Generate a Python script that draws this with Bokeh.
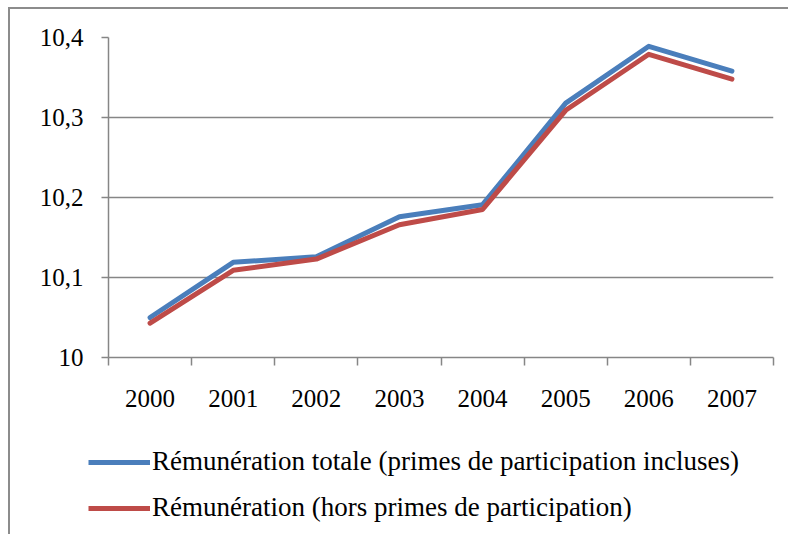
from bokeh.plotting import figure
from bokeh.layouts import column
from bokeh.models import (Range1d, FixedTicker, Legend, LegendItem)
from bokeh.embed import file_html
from bokeh.resources import INLINE

years = ["2000", "2001", "2002", "2003", "2004", "2005", "2006", "2007"]
totale = [10.050, 10.119, 10.126, 10.176, 10.191, 10.318, 10.389, 10.358]
hors = [10.043, 10.109, 10.123, 10.166, 10.185, 10.309, 10.379, 10.348]
y_ticks = [10.0, 10.1, 10.2, 10.3, 10.4]
y_labels = ["10", "10,1", "10,2", "10,3", "10,4"]
names = ["Rémunération totale (primes de participation incluses)",
         "Rémunération (hors primes de participation)"]

BLUE = "#4A7EBB"
RED = "#BE4B48"
GRAY = "#868686"
FONT = "Liberation Serif"
FS = "25px"

xs = [i + 0.5 for i in range(len(years))]

p = figure(width=778, height=411, output_backend="svg", toolbar_location=None,
           x_range=Range1d(0, len(years)), y_range=Range1d(10.0, 10.4),
           min_border_left=98, min_border_top=28, min_border_right=15,
           min_border_bottom=63)
p.outline_line_color = None
p.background_fill_color = "white"
p.border_fill_color = "white"

# y axis
p.yaxis.ticker = FixedTicker(ticks=y_ticks, minor_ticks=[])
p.yaxis.major_label_overrides = {t: l for t, l in zip(y_ticks, y_labels)}
p.yaxis.axis_line_color = GRAY
p.yaxis.axis_line_width = 1.5
p.yaxis.major_tick_line_color = GRAY
p.yaxis.major_tick_line_width = 1.5
p.yaxis.major_tick_out = 7
p.yaxis.major_tick_in = 0
p.yaxis.major_label_standoff = 18
p.yaxis.major_label_text_font = FONT
p.yaxis.major_label_text_font_size = FS
p.yaxis.major_label_text_color = "black"

# x axis
p.xaxis.ticker = FixedTicker(ticks=xs, minor_ticks=list(range(len(years) + 1)))
p.xaxis.major_label_overrides = {x: y for x, y in zip(xs, years)}
p.xaxis.axis_line_color = GRAY
p.xaxis.axis_line_width = 1.5
p.xaxis.major_tick_line_color = None
p.xaxis.major_tick_out = 0
p.xaxis.major_tick_in = 0
p.xaxis.minor_tick_line_color = GRAY
p.xaxis.minor_tick_line_width = 1.5
p.xaxis.minor_tick_out = 8
p.xaxis.minor_tick_in = 0
p.xaxis.major_label_standoff = 24
p.xaxis.major_label_text_font = FONT
p.xaxis.major_label_text_font_size = FS
p.xaxis.major_label_text_color = "black"

p.xgrid.grid_line_color = None
p.ygrid.ticker = FixedTicker(ticks=y_ticks[1:])
p.ygrid.grid_line_color = GRAY
p.ygrid.grid_line_width = 1.5

p.line(xs, totale, line_color=BLUE, line_width=5, line_join="round", line_cap="round")
p.line(xs, hors, line_color=RED, line_width=5, line_join="round", line_cap="round")

# legend panel (series lines kept out of its view; only the legend shows)
q = figure(width=778, height=114, output_backend="svg", toolbar_location=None,
           x_range=Range1d(0, 1), y_range=Range1d(0, 1),
           x_axis_location=None, y_axis_location=None,
           min_border_left=0, min_border_top=0, min_border_right=0,
           min_border_bottom=0)
if "frame_align" in q.properties():
    q.frame_align = False
    p.frame_align = False
q.grid.visible = False
q.outline_line_color = None
q.border_fill_color = "white"
q.background_fill_color = "white"
l1 = q.line(xs, totale, line_color=BLUE, line_width=5)
l2 = q.line(xs, hors, line_color=RED, line_width=5)

legend = Legend(items=[LegendItem(label=names[0], renderers=[l1]),
                       LegendItem(label=names[1], renderers=[l2])],
                location=(78, 11), orientation="vertical",
                border_line_color=None, background_fill_alpha=0,
                padding=0, margin=0, spacing=15, glyph_width=62, glyph_height=30,
                label_standoff=2, label_height=30,
                label_text_font=FONT, label_text_font_size="27px",
                label_text_color="black")
q.add_layout(legend, "center")

layout = column(p, column(q, spacing=0), spacing=0)
layout.styles = {"border-left": "2px solid #8c8c8c", "border-top": "2px solid #8c8c8c",
                 "margin-left": "8px", "margin-top": "7px"}

open("out.html", "w").write(file_html(layout, INLINE))
